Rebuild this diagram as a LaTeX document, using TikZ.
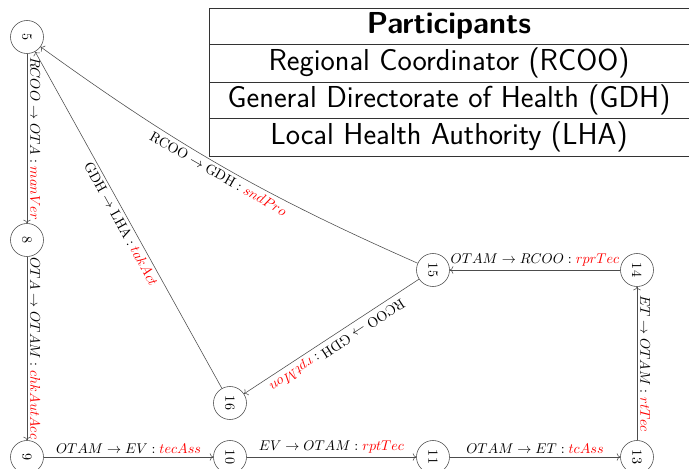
\documentclass[tikz,border=0pt]{standalone}
\usetikzlibrary{arrows.meta}
\begin{document}
\begin{tikzpicture}[x=0.709pt,y=-0.709pt,
  st/.style={circle,draw=black!70,minimum size=23.4pt,inner sep=0pt,rotate=-90,font=\fontsize{10}{12}\selectfont},
  tr/.style={draw=black!70,->},
  lb/.style={inner sep=2.2pt,font=\fontsize{10}{12}\selectfont},
  tbl/.style={draw=black!80,line width=0.7pt},
  tt/.style={font=\fontsize{21.5}{24}\selectfont\sffamily}]
\clip (0,0) rectangle (689,469);
% states
\node[st] (n5)  at (27,37)   {5};
\node[st] (n8)  at (27,240)  {8};
\node[st] (n9)  at (27,457)  {9};
\node[st] (n10) at (230,457) {10};
\node[st] (n11) at (433,457) {11};
\node[st] (n13) at (637,457) {13};
\node[st] (n14) at (637,270) {14};
\node[st] (n15) at (433,270) {15};
\node[st] (n16) at (230,403) {16};
% transitions
\draw[tr] (n5) -- node[lb,rotate=-90,anchor=south]{$RCOO \rightarrow OTA : \textcolor{red}{manVer}$} (n8);
\draw[tr] (n8) -- node[lb,rotate=-90,anchor=south]{$OTA \rightarrow OTAM : \textcolor{red}{chkAutAcc}$} (n9);
\draw[tr] (n9) -- node[lb,anchor=south]{$OTAM \rightarrow EV : \textcolor{red}{tecAss}$} (n10);
\draw[tr] (n10) -- node[lb,anchor=south]{$EV \rightarrow OTAM : \textcolor{red}{rptTec}$} (n11);
\draw[tr] (n11) -- node[lb,anchor=south]{$OTAM \rightarrow ET : \textcolor{red}{tcAss}$} (n13);
\draw[tr] (n13) -- node[lb,rotate=-90,anchor=south]{$ET \rightarrow OTAM : \textcolor{red}{rtTec}$} (n14);
\draw[tr] (n14) -- node[lb,anchor=south]{$OTAM \rightarrow RCOO : \textcolor{red}{rprTec}$} (n15);
\draw[tr] (n15) -- node[lb,rotate=-146.8,anchor=south]{$\mathrm{RCOO} \rightarrow \mathrm{GDH} : \textcolor{red}{rptMon}$} (n16);
\draw[tr] (n15) to[bend left=6] node[lb,rotate=-29.9,anchor=north]{$\mathrm{RCOO} \rightarrow \mathrm{GDH} : \textcolor{red}{sndPro}$} (n5);
\draw[tr] (n16) -- node[lb,rotate=-61.1,anchor=north]{$\mathrm{GDH} \rightarrow \mathrm{LHA} : \textcolor{red}{takAct}$} (n5);
% participants table
\draw[tbl,fill=white] (209,8) rectangle (692,156);
\draw[tbl] (209,44) -- (692,44);
\draw[tbl] (209,82) -- (692,82);
\draw[tbl] (209,118) -- (692,118);
\node[tt] (t0) at (449,26)  {\bfseries Participants};
\node[tt] (t1) at (449,63)  {Regional Coordinator (RCOO)};
\node[tt] (t2) at (449,100) {General Directorate of Health (GDH)};
\node[tt] (t3) at (449,137) {Local Health Authority (LHA)};
\end{tikzpicture}
\end{document}
